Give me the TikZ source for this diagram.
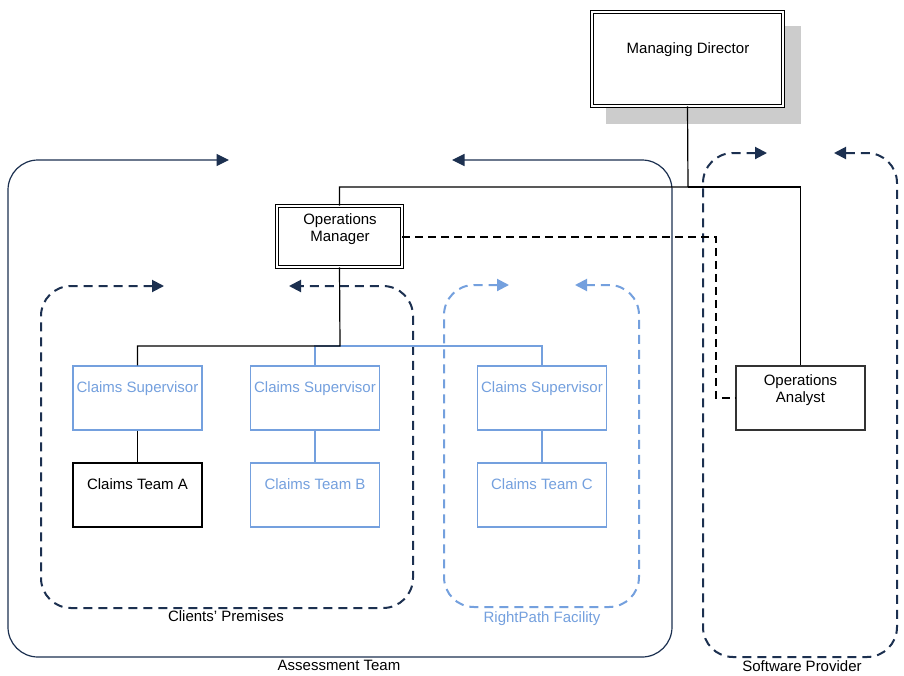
\documentclass[tikz,border=0pt]{standalone}
\usepackage{fontspec}
\setmainfont{Liberation Sans}
\usetikzlibrary{arrows.meta}
\definecolor{navy}{HTML}{1C3050}
\definecolor{lblue}{HTML}{74A0DE}
\definecolor{shadowgray}{HTML}{CCCCCC}
\tikzset{
  txt/.style={inner sep=0pt, text height=10.7pt, text depth=0pt, font=\fontsize{15}{17}\selectfont},
  txt2/.style={inner sep=0pt, align=center, font=\fontsize{15}{17}\selectfont},
  boxbk/.style={draw=black, fill=white, line width=1.3pt, minimum width=129pt, minimum height=64pt, inner sep=0pt},
  boxbl/.style={draw=lblue, fill=white, line width=1.2pt, minimum width=129pt, minimum height=64pt, inner sep=0pt},
  dbox/.style={draw=black, fill=white, double=white, double distance=2pt, line width=0.9pt, inner sep=0pt},
  grpsolid/.style={draw=navy, line width=1.2pt, rounded corners=30pt,
    arrows={Triangle[length=12.5pt,width=12pt]-Triangle[length=12.5pt,width=12pt]}},
  grpdash/.style={line width=2pt, rounded corners=30pt, dash pattern=on 9pt off 6pt,
    arrows={Triangle[length=12pt,width=12pt]-Triangle[length=12pt,width=12pt]}},
  connbk/.style={draw=black, line width=1.2pt},
  connbl/.style={draw=lblue, line width=1.2pt},
  conndash/.style={draw=black, line width=2pt, dash pattern=on 8pt off 5pt},
}
\begin{document}
\begin{tikzpicture}[x=1pt,y=-1pt]
\fill[white] (0,0) rectangle (904,675);
\useasboundingbox (0,0) rectangle (904,675);

% groups
\draw[grpsolid] (229,160) -- (8,160) -- (8,657) -- (672,657) -- (672,160) -- (452,160);
\draw[grpdash, draw=navy] (164,286) -- (41,286) -- (41,608) -- (413,608) -- (413,286) -- (289,286);
\draw[grpdash, draw=lblue] (509,285) -- (444,285) -- (444,607) -- (639,607) -- (639,285) -- (575,285);
\draw[grpdash, draw=navy] (767,153) -- (703,153) -- (703,657) -- (897,657) -- (897,153) -- (834,153);

% group labels
\node[txt] (lcp) at (226,616) {Clients' Premises};
\node[txt, text=lblue] (lrp) at (542,617) {RightPath Facility};
\node[txt] (lat) at (339,665) {Assessment Team};
\node[txt] (lsp) at (802,666) {Software Provider};

% shadow
\fill[shadowgray] (606,26) rectangle (801,124);

% boxes
\node[dbox, minimum width=191pt, minimum height=94pt] (md) at (687.5,59) {};
\node[dbox, minimum width=125pt, minimum height=61pt] (om) at (339.5,236.5) {};
\node[boxbk, draw=black!80] (oa) at (800.5,398) {};
\node[boxbl] (cs1) at (137.5,398) {};
\node[boxbl] (cs2) at (315,398) {};
\node[boxbl] (cs3) at (542,398) {};
\node[boxbk] (cta) at (137.5,495) {};
\node[boxbl] (ctb) at (315,495) {};
\node[boxbl] (ctc) at (542,495) {};

% connector junctions
\coordinate (j1) at (688,187);
\coordinate (j2) at (340,346);
\coordinate (k) at (716,398);

% connectors
\draw[connbk] (md.south) -- (j1) -| (om.north);
\draw[connbk] (j1) -| (oa.north);
\draw[connbl] (cs2.north) |- (j2);
\draw[connbl] (j2) -| (cs3.north);
\draw[connbk] (om.south) -- (j2) -| (cs1.north);
\draw[connbk] (cs1.south) -- (cta.north);
\draw[connbl] (cs2.south) -- (ctb.north);
\draw[connbl] (cs3.south) -- (ctc.north);
\draw[conndash] (om.east) -| (k) -- (oa.west);

% box texts
\node[txt] (mdt) at (688,48) {Managing Director};
\node[txt2] (omt) at (340,229.3) {Operations\\Manager};
\node[txt2] (oat) at (800.5,390.3) {Operations\\Analyst};
\node[txt, text=lblue] (cs1t) at (137.5,387) {Claims Supervisor};
\node[txt, text=lblue] (cs2t) at (315,387) {Claims Supervisor};
\node[txt, text=lblue] (cs3t) at (542,387) {Claims Supervisor};
\node[txt] (ctat) at (137.5,484) {Claims Team A};
\node[txt, text=lblue] (ctbt) at (315,484) {Claims Team B};
\node[txt, text=lblue] (ctct) at (542,484) {Claims Team C};
\end{tikzpicture}
\end{document}
